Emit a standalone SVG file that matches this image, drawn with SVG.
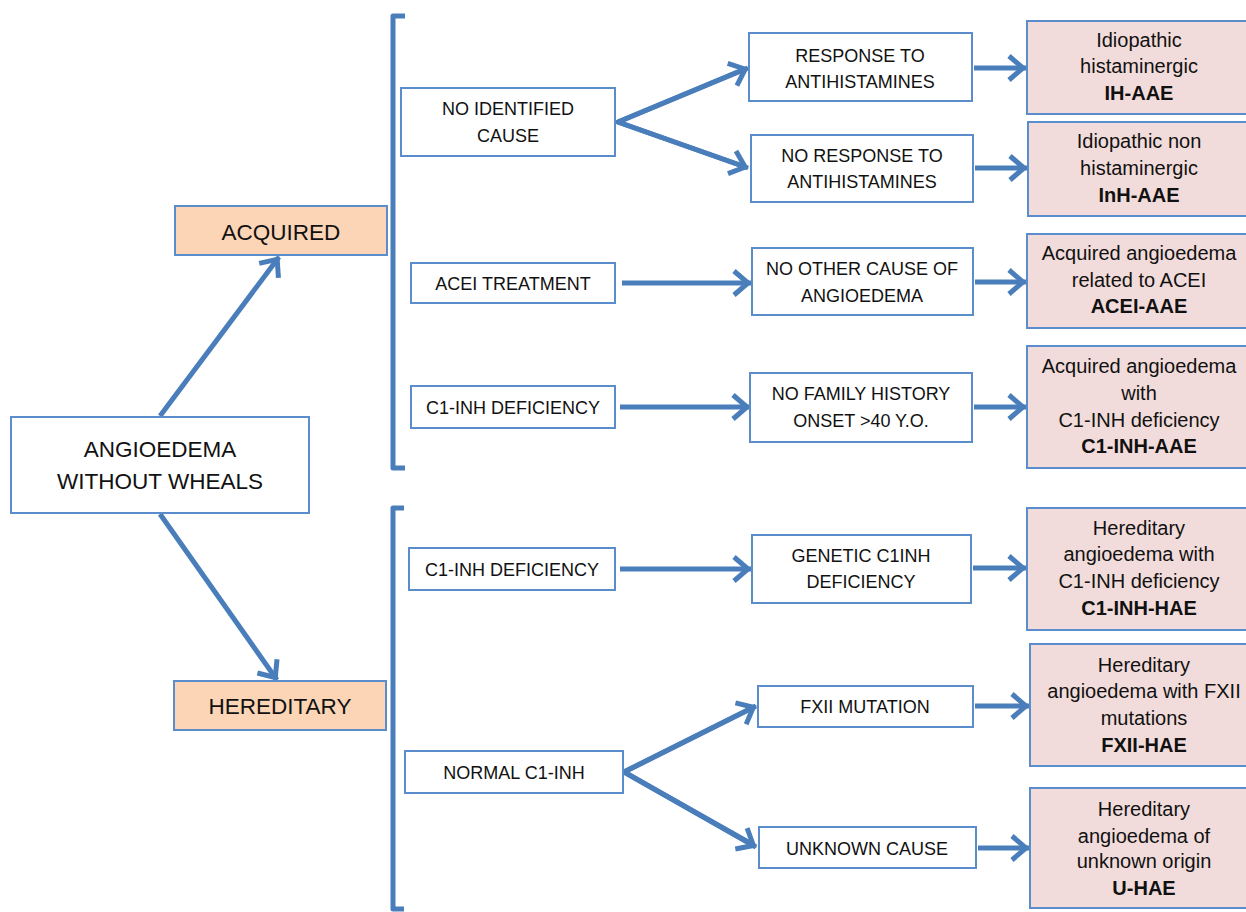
<svg xmlns="http://www.w3.org/2000/svg" width="1246" height="912" viewBox="0 0 1246 912">
<style>
  .box { fill: #ffffff; stroke: #5b8ccc; stroke-width: 2; }
  .cat { fill: #fbd5b5; stroke: #5b8ccc; stroke-width: 2; }
  .res { fill: #f2dcdb; stroke: #5b8ccc; stroke-width: 2; }
  .t { font-family: "Liberation Sans", Arial, sans-serif; font-size: 18px; fill: #111111; text-anchor: middle; }
  .tl { font-size: 22.5px; }
  .tr { font-size: 20px; }
  .b { font-weight: bold; }
  .con { fill: none; stroke: #4a7ebb; stroke-width: 5; }
  .br { fill: none; stroke: #4a7ebb; stroke-width: 5; stroke-linejoin: round; }
</style>
<defs>
  <marker id="ah" markerUnits="userSpaceOnUse" markerWidth="40" markerHeight="40" refX="0" refY="0" viewBox="-20 -20 40 40" orient="auto" overflow="visible">
    <path d="M-17,-12 L-3,0 L-17,12" fill="none" stroke="#4a7ebb" stroke-width="5" stroke-linejoin="miter" stroke-linecap="butt"/>
  </marker>
</defs>
<rect width="1246" height="912" fill="#ffffff"/>

<g id="connectors">
  <path class="br" d="M405,16 H393 V468 H405"/>
  <path class="br" d="M404,508 H393 V909 H404"/>
  <line class="con" x1="160" y1="416" x2="279" y2="257" marker-end="url(#ah)"/>
  <line class="con" x1="160" y1="514" x2="277" y2="680" marker-end="url(#ah)"/>
  <polyline class="con" points="740,71 618,122 740,165"/>
  <line class="con" x1="618" y1="122" x2="748" y2="68" marker-end="url(#ah)"/>
  <line class="con" x1="618" y1="122" x2="748" y2="168" marker-end="url(#ah)"/>
  <line class="con" x1="622" y1="283" x2="751" y2="283" marker-end="url(#ah)"/>
  <line class="con" x1="620" y1="407" x2="750" y2="407" marker-end="url(#ah)"/>
  <line class="con" x1="620" y1="569" x2="751" y2="569" marker-end="url(#ah)"/>
  <polyline class="con" points="748,710 624,772 748,842"/>
  <line class="con" x1="624" y1="772" x2="756" y2="706" marker-end="url(#ah)"/>
  <line class="con" x1="624" y1="772" x2="756" y2="847" marker-end="url(#ah)"/>
  <line class="con" x1="974" y1="68" x2="1026" y2="68" marker-end="url(#ah)"/>
  <line class="con" x1="975" y1="168" x2="1027" y2="168" marker-end="url(#ah)"/>
  <line class="con" x1="975" y1="282" x2="1026" y2="282" marker-end="url(#ah)"/>
  <line class="con" x1="974" y1="407" x2="1026" y2="407" marker-end="url(#ah)"/>
  <line class="con" x1="973" y1="568" x2="1026" y2="568" marker-end="url(#ah)"/>
  <line class="con" x1="975" y1="706" x2="1029" y2="706" marker-end="url(#ah)"/>
  <line class="con" x1="978" y1="848" x2="1029" y2="848" marker-end="url(#ah)"/>
</g>

<g id="root"><rect class="box" x="11" y="417" width="298" height="96"/>
  <text class="t tl" x="160" y="457">ANGIOEDEMA</text>
  <text class="t tl" x="160" y="489">WITHOUT WHEALS</text></g>
<g id="acquired"><rect class="cat" x="175" y="206" width="212" height="49"/>
  <text class="t tl" x="281" y="240">ACQUIRED</text></g>
<g id="hereditary"><rect class="cat" x="174" y="681" width="212" height="49"/>
  <text class="t tl" x="280" y="714">HEREDITARY</text></g>

<g id="no-identified-cause"><rect class="box" x="401" y="88" width="214" height="68"/>
  <text class="t" x="508" y="115">NO IDENTIFIED</text>
  <text class="t" x="508" y="142">CAUSE</text></g>
<g id="acei-treatment"><rect class="box" x="411" y="263" width="204" height="40"/>
  <text class="t" x="513" y="290">ACEI TREATMENT</text></g>
<g id="c1inh-def-acq"><rect class="box" x="411" y="386" width="204" height="42"/>
  <text class="t" x="513" y="414">C1-INH DEFICIENCY</text></g>
<g id="c1inh-def-her"><rect class="box" x="409" y="548" width="206" height="42"/>
  <text class="t" x="512" y="576">C1-INH DEFICIENCY</text></g>
<g id="normal-c1inh"><rect class="box" x="405" y="751" width="218" height="42"/>
  <text class="t" x="514" y="779">NORMAL C1-INH</text></g>

<g id="response"><rect class="box" x="749" y="33" width="223" height="68"/>
  <text class="t" x="860" y="62">RESPONSE TO</text>
  <text class="t" x="860" y="88">ANTIHISTAMINES</text></g>
<g id="no-response"><rect class="box" x="751" y="135" width="222" height="67"/>
  <text class="t" x="862" y="162">NO RESPONSE TO</text>
  <text class="t" x="862" y="188">ANTIHISTAMINES</text></g>
<g id="no-other-cause"><rect class="box" x="752" y="248" width="221" height="67"/>
  <text class="t" x="862" y="275">NO OTHER CAUSE OF</text>
  <text class="t" x="862" y="302">ANGIOEDEMA</text></g>
<g id="no-family-history"><rect class="box" x="750" y="373" width="222" height="69"/>
  <text class="t" x="861" y="400">NO FAMILY HISTORY</text>
  <text class="t" x="861" y="427">ONSET &gt;40 Y.O.</text></g>
<g id="genetic"><rect class="box" x="752" y="535" width="219" height="68"/>
  <text class="t" x="861" y="562">GENETIC C1INH</text>
  <text class="t" x="861" y="588">DEFICIENCY</text></g>
<g id="fxii-mutation"><rect class="box" x="758" y="686" width="215" height="41"/>
  <text class="t" x="865" y="713">FXII MUTATION</text></g>
<g id="unknown-cause"><rect class="box" x="759" y="827" width="217" height="41"/>
  <text class="t" x="867" y="855">UNKNOWN CAUSE</text></g>

<g id="ih-aae"><rect class="res" x="1027" y="21" width="230" height="93"/>
  <text class="t tr" x="1139" y="47">Idiopathic</text>
  <text class="t tr" x="1139" y="73">histaminergic</text>
  <text class="t tr b" x="1139" y="100">IH-AAE</text></g>
<g id="inh-aae"><rect class="res" x="1028" y="122" width="230" height="94"/>
  <text class="t tr" x="1139" y="148">Idiopathic non</text>
  <text class="t tr" x="1139" y="175">histaminergic</text>
  <text class="t tr b" x="1139" y="202">InH-AAE</text></g>
<g id="acei-aae"><rect class="res" x="1027" y="234" width="230" height="94"/>
  <text class="t tr" x="1139" y="260">Acquired angioedema</text>
  <text class="t tr" x="1139" y="287">related to ACEI</text>
  <text class="t tr b" x="1139" y="313">ACEI-AAE</text></g>
<g id="c1inh-aae"><rect class="res" x="1027" y="346" width="230" height="122"/>
  <text class="t tr" x="1139" y="373">Acquired angioedema</text>
  <text class="t tr" x="1139" y="400">with</text>
  <text class="t tr" x="1139" y="427">C1-INH deficiency</text>
  <text class="t tr b" x="1139" y="453">C1-INH-AAE</text></g>
<g id="c1inh-hae"><rect class="res" x="1027" y="508" width="230" height="122"/>
  <text class="t tr" x="1139" y="535">Hereditary</text>
  <text class="t tr" x="1139" y="561">angioedema with</text>
  <text class="t tr" x="1139" y="588">C1-INH deficiency</text>
  <text class="t tr b" x="1139" y="615">C1-INH-HAE</text></g>
<g id="fxii-hae"><rect class="res" x="1030" y="644" width="230" height="122"/>
  <text class="t tr" x="1144" y="672">Hereditary</text>
  <text class="t tr" x="1144" y="698">angioedema with FXII</text>
  <text class="t tr" x="1144" y="725">mutations</text>
  <text class="t tr b" x="1144" y="752">FXII-HAE</text></g>
<g id="u-hae"><rect class="res" x="1030" y="788" width="230" height="120"/>
  <text class="t tr" x="1144" y="816">Hereditary</text>
  <text class="t tr" x="1144" y="843">angioedema of</text>
  <text class="t tr" x="1144" y="868">unknown origin</text>
  <text class="t tr b" x="1144" y="895">U-HAE</text></g>
</svg>
